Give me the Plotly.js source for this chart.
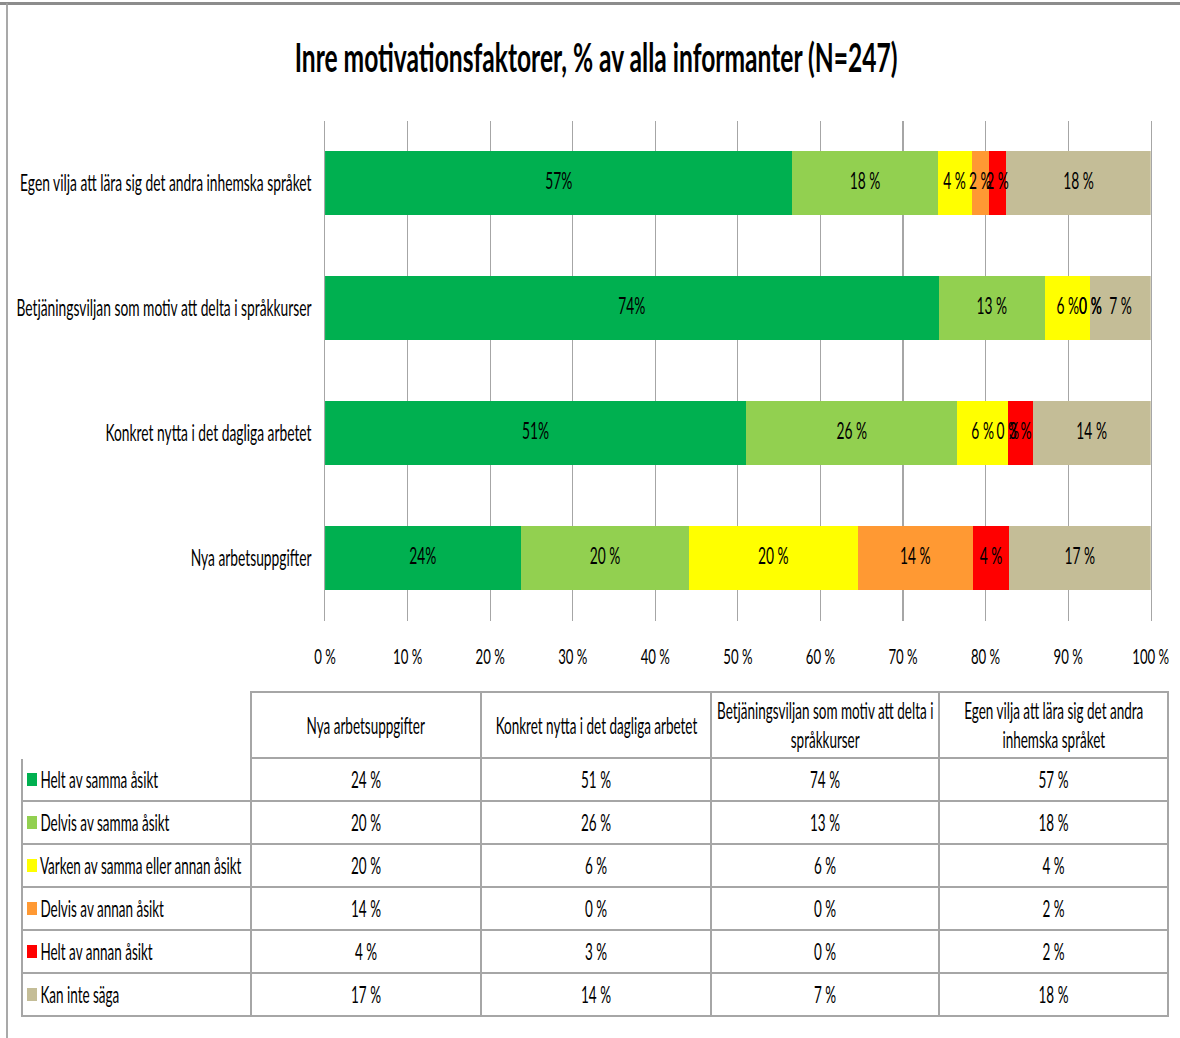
<!DOCTYPE html>
<html>
<head>
<meta charset="utf-8">
<script src="https://cdn.plot.ly/plotly-3.0.1.min.js"></script>
<style>
html,body{margin:0;padding:0;background:#fff;overflow:hidden;}
#wrap{width:1180px;height:1038px;overflow:hidden;position:relative;background:#fff;}
#chart{position:absolute;left:0;top:0;transform-origin:0 0;}
</style>
</head>
<body>
<div id="wrap"><div id="chart"></div></div>
<script>
// ---- data ----
const categories = [
  'Nya arbetsuppgifter',
  'Konkret nytta i det dagliga arbetet',
  'Betjäningsviljan som motiv att delta i språkkurser',
  'Egen vilja att lära sig det andra inhemska språket'
];
const tableHeaders = [
  'Nya arbetsuppgifter',
  'Konkret nytta i det dagliga arbetet',
  'Betjäningsviljan som motiv att delta i<br>språkkurser',
  'Egen vilja att lära sig det andra<br>inhemska språket'
];
const seriesNames = [
  'Helt av samma åsikt',
  'Delvis av samma åsikt',
  'Varken av samma eller annan åsikt',
  'Delvis av annan åsikt',
  'Helt av annan åsikt',
  'Kan inte säga'
];
const helt        = [23.7, 51.0, 74.3, 56.6];
const delvis      = [20.4, 25.6, 12.9, 17.6];
const varken      = [20.4,  6.1,  5.5,  4.1];
const delvisAnnan = [14.0,  0.0,  0.0,  2.1];
const heltAnnan   = [ 4.3,  3.0,  0.0,  2.1];
const kanInte     = [17.2, 14.3,  7.3, 17.5];
const xTicks = [0, 10, 20, 30, 40, 50, 60, 70, 80, 90, 100];

const seriesValues = [helt, delvis, varken, delvisAnnan, heltAnnan, kanInte];
const seriesColors = ['#00b050', '#92d050', '#ffff00', '#ff9933', '#ff0000', '#c4bd97'];

// ---- rendering setup (Excel-style condensed look) ----
const SX = 0.6;
const W = 1180 / SX, H = 1038;
const el = document.getElementById('chart');
el.style.width = W + 'px';
el.style.height = H + 'px';

const FONT = 'Lato, "Open Sans", sans-serif';
const px = v => v / 1180;          // horizontal reference px -> paper
const py = v => 1 - v / 1038;      // vertical reference px -> paper

const traces = [];
seriesValues.forEach((vals, i) => {
  traces.push({
    type: 'bar', orientation: 'h',
    name: seriesNames[i],
    x: vals, y: categories,
    width: 0.512,
    marker: {color: seriesColors[i], line: {width: 0}},
    textposition: 'none',
    hoverinfo: 'skip',
    showlegend: false
  });
});

// data labels centred in each segment
const lx = [], ly = [], lt = [];
categories.forEach((c, j) => {
  let cum = 0;
  seriesValues.forEach((vals, i) => {
    const v = vals[j];
    lx.push(cum + v / 2);
    ly.push(c);
    lt.push(Math.round(v) + (i === 0 ? '%' : ' %'));
    cum += v;
  });
});
traces.push({
  type: 'scatter', mode: 'text',
  x: lx, y: ly, text: lt,
  textposition: 'middle center',
  textfont: {family: FONT, size: 23, color: '#000'},
  cliponaxis: false, hoverinfo: 'skip', showlegend: false
});

// ---- data table ----
const GRID = '#a6a6a6';
const TFONT = 22.5;
const colWidths = [229, 230, 230, 228, 229];
const tableLeft = 22, tableRight = 1168, tableTop = 692, headerH = 66, rowH = 43;
const tableBottom = tableTop + headerH + rowH * seriesNames.length;
const TEXT_DROP = 5;   // centre the text vertically in the 43px rows
const legendCol = seriesNames.map(n => '\u2003\u00a0' + n.replace(/ /g, '\u00a0'));
const tableCols = [legendCol];
categories.forEach((c, j) => {
  tableCols.push(seriesValues.map(vals => Math.round(vals[j]) + '\u00a0%'));
});
const CLEAR = 'rgba(0,0,0,0)';
// grid of the table
traces.push({
  type: 'table',
  domain: {x: [px(tableLeft), px(tableRight)], y: [py(tableBottom + 1), py(tableTop)]},
  columnwidth: colWidths,
  header: {
    values: ['', '', '', '', ''],
    height: headerH,
    line: {color: ['#ffffff', GRID, GRID, GRID, GRID], width: 2.5},
    fill: {color: CLEAR},
    font: {family: FONT, size: TFONT, color: '#000'}
  },
  cells: {
    values: tableCols.map(col => col.map(() => '')),
    height: rowH,
    line: {color: GRID, width: 2.5},
    fill: {color: CLEAR},
    font: {family: FONT, size: TFONT, color: '#000'}
  }
});
// values of the table
traces.push({
  type: 'table',
  domain: {x: [px(tableLeft), px(tableRight)],
           y: [py(tableBottom + 1 + TEXT_DROP), py(tableTop + TEXT_DROP)]},
  columnwidth: colWidths,
  header: {
    values: ['', '', '', '', ''],
    height: headerH,
    line: {width: 0, color: CLEAR},
    fill: {color: CLEAR},
    font: {family: FONT, size: TFONT, color: '#000'}
  },
  cells: {
    values: tableCols,
    height: rowH,
    align: ['left', 'center', 'center', 'center', 'center'],
    line: {width: 0, color: CLEAR},
    fill: {color: CLEAR},
    font: {family: FONT, size: TFONT, color: '#000'}
  }
});
// legend keys in the first column
traces.push({
  type: 'bar', orientation: 'h',
  x: seriesNames.map(() => 1), y: seriesNames, base: 0,
  width: 0.28,
  marker: {color: seriesColors, line: {width: 0}},
  xaxis: 'x2', yaxis: 'y2',
  hoverinfo: 'skip', showlegend: false, textposition: 'none'
});

// table header labels (centred in the header cells)
const annotations = [];
let edge = tableLeft + colWidths[0];
tableHeaders.forEach((h, j) => {
  const w = colWidths[j + 1];
  annotations.push({
    xref: 'paper', yref: 'paper',
    x: px(edge + w / 2), y: py(tableTop + headerH / 2),
    xanchor: 'center', yanchor: 'middle', align: 'center',
    text: h, showarrow: false,
    font: {family: FONT, size: TFONT, color: '#000'}
  });
  edge += w;
});

const layout = {
  width: W, height: H,
  margin: {l: 0, r: 0, t: 0, b: 0},
  paper_bgcolor: '#ffffff', plot_bgcolor: 'rgba(0,0,0,0)',
  barmode: 'stack',
  title: {
    text: 'Inre motivationsfaktorer, % av alla informanter (N=247)',
    font: {family: FONT, size: 41, color: '#000', weight: 'bold'},
    x: px(596), xanchor: 'center', xref: 'paper',
    y: py(58), yanchor: 'middle', yref: 'paper'
  },
  xaxis: {
    domain: [px(325), px(1150.5)],
    range: [0, 100],
    tickmode: 'array',
    tickvals: xTicks,
    ticktext: xTicks.map(v => v + ' %'),
    showgrid: true, gridcolor: GRID, gridwidth: 2,
    zeroline: false, showline: false,
    ticks: '', ticklabelstandoff: 21,
    tickfont: {family: FONT, size: 22, color: '#000'},
    fixedrange: true
  },
  yaxis: {
    domain: [py(620.5), py(120.5)],
    type: 'category',
    categoryorder: 'array', categoryarray: categories,
    range: [-0.5, 3.5],
    showgrid: false, zeroline: false,
    showline: true, mirror: true, linecolor: GRID, linewidth: 2,
    ticks: '', ticklabelstandoff: 16,
    tickfont: {family: FONT, size: 23, color: '#000'},
    fixedrange: true
  },
  xaxis2: {
    domain: [px(27), px(37)], range: [0, 1], anchor: 'y2',
    visible: false, fixedrange: true
  },
  yaxis2: {
    domain: [py(tableBottom), py(tableTop + headerH)], anchor: 'x2',
    type: 'category', categoryorder: 'array', categoryarray: seriesNames,
    range: [seriesNames.length - 0.5, -0.5],
    visible: false, fixedrange: true
  },
  annotations: annotations,
  shapes: [
    {type: 'line', xref: 'paper', yref: 'paper', x0: 0, x1: 1, y0: py(3.5), y1: py(3.5),
     line: {color: '#8c8c8c', width: 3}},
    {type: 'line', xref: 'paper', yref: 'paper', x0: px(7), x1: px(7), y0: 0, y1: py(3),
     line: {color: '#a0a0a0', width: 3}}
  ],
  showlegend: false
};

Plotly.newPlot(el, traces, layout, {displayModeBar: false, staticPlot: true}).then(() => {
  el.style.transform = 'scaleX(' + SX + ')';
});
</script>
</body>
</html>
